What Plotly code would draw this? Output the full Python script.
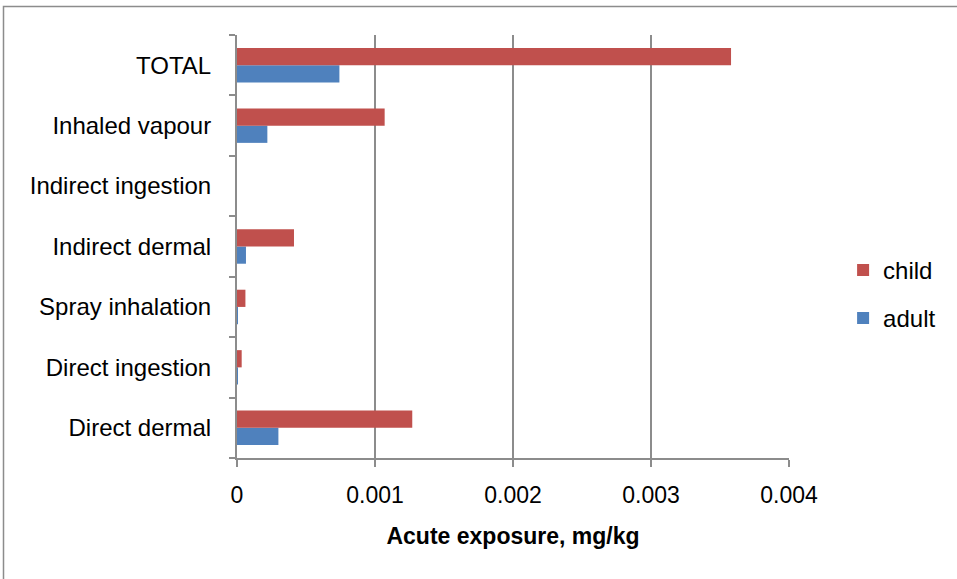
import plotly.graph_objects as go

categories = ["Direct dermal", "Direct ingestion", "Spray inhalation", "Indirect dermal",
              "Indirect ingestion", "Inhaled vapour", "TOTAL"]
adult = [0.00030, 0.000005, 0.000007, 0.000065, 0.0, 0.00022, 0.000742]
child = [0.00127, 0.000034, 0.000061, 0.000413, 0.0, 0.00107, 0.00358]
x_ticks = [0, 0.001, 0.002, 0.003, 0.004]
x_tick_labels = ["0", "0.001", "0.002", "0.003", "0.004"]

FONT = "Liberation Sans"
W, H = 957, 579
L, R, T, B = 237, 168, 35, 121
pw, ph = W - L - R, H - T - B

fig = go.Figure()
fig.add_trace(go.Bar(y=categories, x=adult, orientation="h", name="adult", legendgroup="a",
                     legendrank=2, marker=dict(color="#4f81bd", line=dict(width=0))))
fig.add_trace(go.Bar(y=categories, x=child, orientation="h", name="child", legendgroup="c",
                     legendrank=1, marker=dict(color="#c0504d", line=dict(width=0))))

fig.update_layout(
    width=W, height=H,
    margin=dict(l=L, r=R, t=T, b=B, pad=0, autoexpand=False),
    paper_bgcolor="white", plot_bgcolor="white",
    barmode="group", bargap=0.43, bargroupgap=0,
    font=dict(family=FONT, size=23, color="black"),
    showlegend=True,
    legend=dict(traceorder="grouped", x=1.098, y=0.387, xanchor="left", yanchor="middle",
                font=dict(size=24), itemwidth=30, tracegroupgap=14,
                bgcolor="rgba(0,0,0,0)"),
    xaxis=dict(range=[0, 0.004], tickvals=x_ticks, ticktext=x_tick_labels,
               showgrid=True, gridcolor="#8c8c8c", gridwidth=1.5,
               showline=True, linecolor="#8c8c8c", linewidth=2,
               ticks="outside", ticklen=7, tickcolor="#8c8c8c", tickwidth=1.5,
               zeroline=False, ticklabelstandoff=8,
               title=dict(text="<b>Acute exposure, mg/kg</b>", font=dict(size=23), standoff=21)),
    yaxis=dict(type="category", categoryorder="array", categoryarray=categories,
               showgrid=False, showline=True, linecolor="#8c8c8c", linewidth=2,
               ticks="outside", ticklen=6, tickcolor="#8c8c8c", tickwidth=2,
               tickson="boundaries", ticklabelstandoff=19, zeroline=False,
               tickfont=dict(size=24)),
)

# outer chart border (Excel chart area)
fig.add_shape(type="rect", xref="paper", yref="paper",
              x0=(3.5 - L) / pw, x1=(962 - L) / pw,
              y0=(H - B - 585) / ph, y1=(H - B - 6.5) / ph,
              line=dict(color="#8c8c8c", width=1.5), fillcolor="rgba(0,0,0,0)", layer="below")

fig.write_html("out.html")
